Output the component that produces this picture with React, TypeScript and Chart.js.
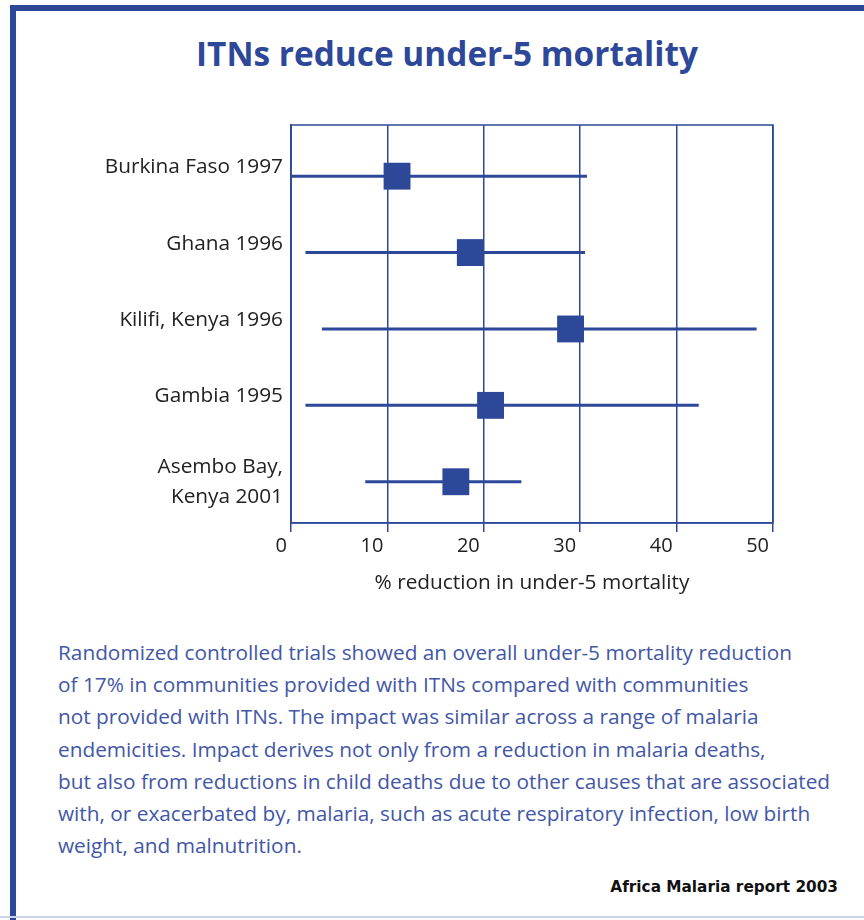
import React, { useEffect, useRef } from "react";
import { Chart, registerables } from "chart.js";

Chart.register(...registerables);

const categories: string[][] = [
  ["Burkina Faso 1997", ""],
  ["Ghana 1996", ""],
  ["Kilifi, Kenya 1996", ""],
  ["Gambia 1995", ""],
  ["Asembo Bay,", "Kenya 2001"],
];
const estimates: number[] = [11.0, 18.6, 29.0, 20.7, 17.1];
const lowerCI: number[] = [0, 1.5, 3.2, 1.5, 7.7];
const upperCI: number[] = [30.7, 30.5, 48.3, 42.3, 23.9];
const xTicks: number[] = [0, 10, 20, 30, 40, 50];

const paragraph: string[] = [
  "Randomized controlled trials showed an overall under-5 mortality reduction",
  "of 17% in communities provided with ITNs compared with communities",
  "not provided with ITNs. The impact was similar across a range of malaria",
  "endemicities. Impact derives not only from a reduction in malaria deaths,",
  "but also from reductions in child deaths due to other causes that are associated",
  "with, or exacerbated by, malaria, such as acute respiratory infection, low birth",
  "weight, and malnutrition.",
];

const BLUE = "#2d4899";
const TEXT_BLUE = "#4257a6";
const FONT = "'Open Sans', Lato, sans-serif";

const framePlugin = {
  id: "frameBox",
  afterDraw(chart: any) {
    const { ctx, chartArea } = chart;
    ctx.save();
    ctx.strokeStyle = BLUE;
    ctx.lineWidth = 1.5;
    ctx.strokeRect(chartArea.left, chartArea.top, chartArea.right - chartArea.left, chartArea.bottom - chartArea.top);
    ctx.restore();
  },
};

function ForestChart() {
  const ref = useRef<HTMLCanvasElement | null>(null);
  useEffect(() => {
    if (!ref.current) return;
    const ciSets = categories.map((_, i) => ({
      type: "line" as const,
      data: [
        { x: lowerCI[i], y: i },
        { x: upperCI[i], y: i },
      ],
      borderColor: BLUE,
      borderWidth: 3,
      pointRadius: 0,
      showLine: true,
      fill: false,
    }));
    const chart = new Chart(ref.current, {
      type: "scatter",
      data: {
        datasets: [
          {
            data: estimates.map((v, i) => ({ x: v, y: i })),
            pointStyle: "rect",
            pointRadius: 19,
            pointBackgroundColor: BLUE,
            pointBorderWidth: 0,
            backgroundColor: BLUE,
            borderColor: BLUE,
          } as any,
          ...ciSets,
        ],
      },
      options: {
        animation: false,
        responsive: false,
        maintainAspectRatio: false,
        layout: { padding: { top: 125, right: 91, left: 0, bottom: 0 } },
        plugins: { legend: { display: false }, tooltip: { enabled: false } },
        scales: {
          x: {
            type: "linear",
            min: 0,
            max: 50,
            afterBuildTicks: (scale: any) => {
              scale.ticks = xTicks.map((v) => ({ value: v }));
            },
            afterFit: (scale: any) => {
              scale.height = 97;
            },
            grid: { color: BLUE, lineWidth: 1.5, tickLength: 9, drawTicks: true },
            border: { display: true, color: BLUE, width: 1.5 },
            ticks: {
              color: "#222",
              font: { family: FONT, size: 20 },
              padding: 2,
              align: "end",
              labelOffset: -4,
            },
            title: {
              display: true,
              text: "% reduction in under-5 mortality",
              color: "#222",
              font: { family: FONT, size: 20.8 },
              padding: { top: 0, bottom: 24 },
            },
          },
          y: {
            type: "linear",
            reverse: true,
            min: -0.67,
            max: 4.54,
            afterBuildTicks: (scale: any) => {
              scale.ticks = categories.map((_, i) => ({ value: i }));
            },
            afterFit: (scale: any) => {
              scale.width = 291;
            },
            grid: { display: false, drawTicks: false },
            border: { display: true, color: BLUE, width: 1.5 },
            ticks: {
              color: "#222",
              padding: 8,
              callback: (v: any) => categories[v as number],
              font: (ctx: any) => ({
                family: FONT,
                size: 20.8,
                lineHeight: ctx.index === 4 ? 1.45 : 0.85,
              }),
            },
          },
        },
      } as any,
      plugins: [framePlugin],
    });
    return () => chart.destroy();
  }, []);
  return <canvas ref={ref} width={864} height={620} style={{ position: "absolute", left: 0, top: 0, width: 864, height: 620 }} />;
}

export default function App() {
  return (
    <div style={{ position: "fixed", left: 0, top: 0, width: 864, height: 920, background: "#fff", overflow: "hidden" }}>
      <div
        style={{
          position: "absolute",
          left: 10,
          top: 5,
          width: 900,
          height: 920,
          borderLeft: `6px solid ${BLUE}`,
          borderTop: `6px solid ${BLUE}`,
          boxSizing: "border-box",
        }}
      />
      <div style={{ position: "absolute", left: 0, top: 916, width: 864, height: 2, background: "#cdd3e6" }} />
      <div
        style={{
          position: "absolute",
          left: 0,
          top: 28,
          width: 894,
          textAlign: "center",
          fontFamily: FONT,
          fontWeight: 700,
          fontSize: 33.4,
          color: BLUE,
          lineHeight: "50px",
        }}
      >
        ITNs reduce under-5 mortality
      </div>
      <ForestChart />
      <div
        style={{
          position: "absolute",
          left: 58,
          top: 636,
          fontFamily: FONT,
          fontSize: 20.8,
          color: TEXT_BLUE,
          lineHeight: "32.2px",
          whiteSpace: "nowrap",
        }}
      >
        {paragraph.map((l, i) => (
          <div key={i}>{l}</div>
        ))}
      </div>
      <div
        style={{
          position: "absolute",
          right: 26,
          top: 878,
          fontFamily: "'DejaVu Sans', sans-serif",
          fontWeight: 700,
          fontSize: 15.3,
          color: "#111",
        }}
      >
        Africa Malaria report 2003
      </div>
    </div>
  );
}
